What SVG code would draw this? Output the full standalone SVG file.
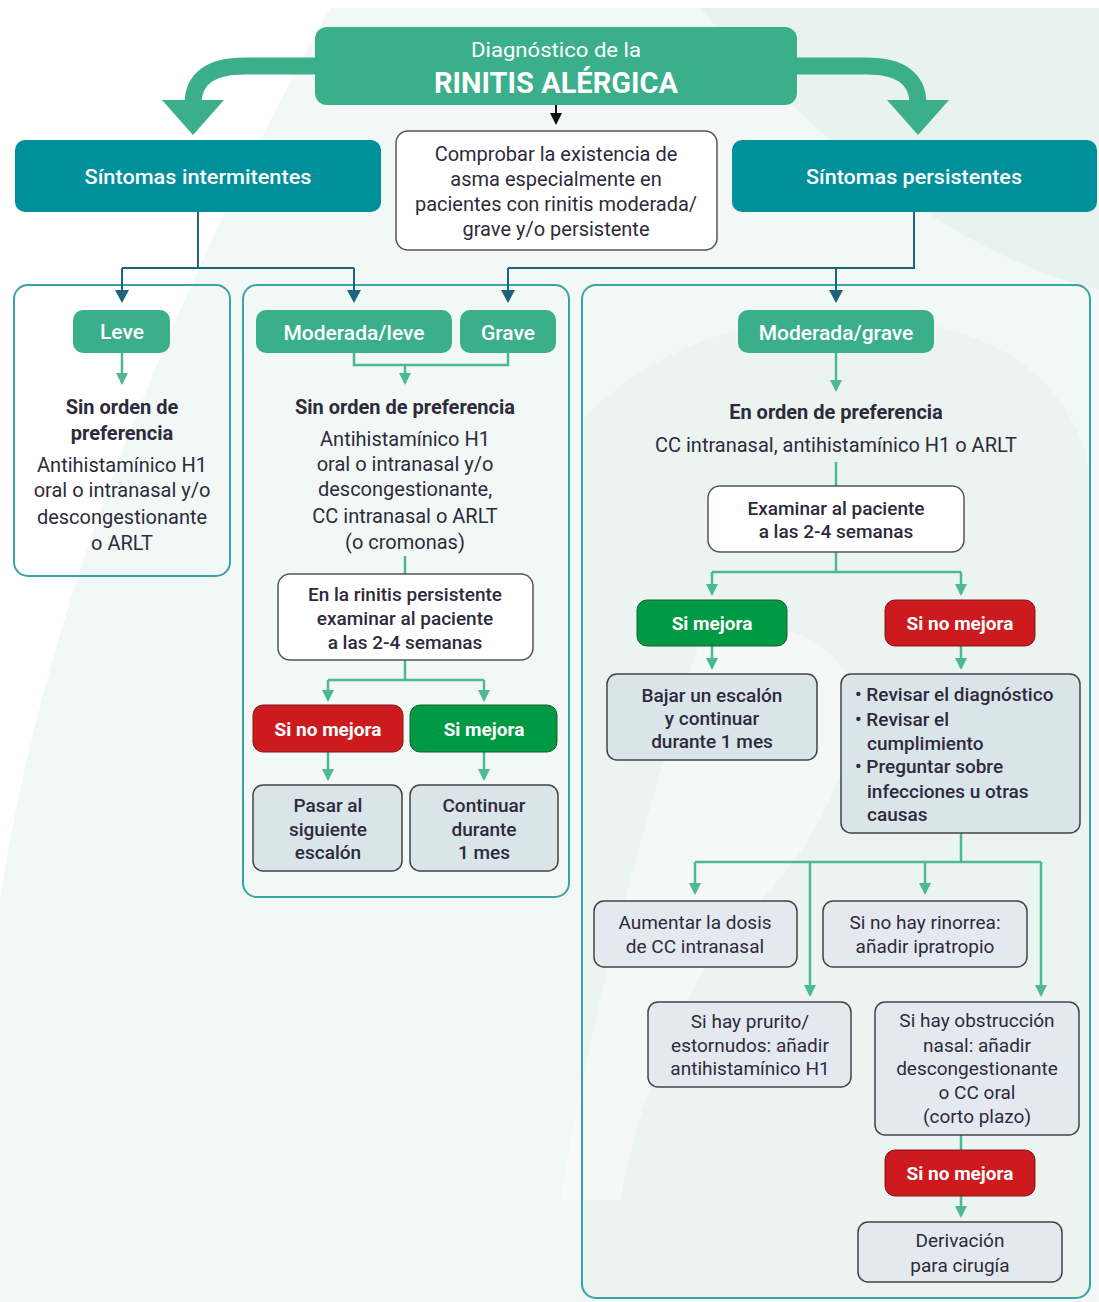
<svg xmlns="http://www.w3.org/2000/svg" width="1099" height="1302" viewBox="0 0 1099 1302">
<defs>
<style>
.t{font-family:Roboto,"Liberation Sans",sans-serif;fill:#2e2a3c;text-anchor:middle;font-size:19px}
.s20{font-size:20px}
.s21{font-size:21px}
.b{font-weight:bold}
.m{font-weight:500}
.w{fill:#ffffff}
.lft{text-anchor:start}
.panel{fill:none;stroke:#3aa3a8;stroke-width:2}
.gbox{fill:#3aaf8a}
.tbox{fill:#00909a}
.red{fill:#cc1a1f;stroke:#7a1a1a;stroke-width:1}
.grn{fill:#009a44;stroke:#1b5e32;stroke-width:1}
.wbox{fill:#ffffff;stroke:#555;stroke-width:1.5}
.bbox{fill:#dae5ea;stroke:#444;stroke-width:1.5}
.lbox{fill:#e4e9ef;stroke:#444;stroke-width:1.5}
.dk{fill:none;stroke:#1d6379;stroke-width:2}
.gl{fill:none;stroke:#4cb896;stroke-width:2.5}
</style>
<marker id="agd" markerWidth="16" markerHeight="12" refX="10" refY="6" orient="auto" markerUnits="userSpaceOnUse" viewBox="0 0 16 12">
<path d="M0,0 L12,6 L0,12 Z" fill="#4cb896"/>
</marker>
<marker id="add" markerWidth="16" markerHeight="14" refX="10" refY="7" orient="auto" markerUnits="userSpaceOnUse" viewBox="0 0 16 14">
<path d="M0,0 L13,7 L0,14 Z" fill="#1d6379"/>
</marker>
<marker id="ab" markerWidth="14" markerHeight="12" refX="10" refY="6" orient="auto" markerUnits="userSpaceOnUse" viewBox="0 0 14 12">
<path d="M0,0 L12,6 L0,12 Z" fill="#111"/>
</marker>
</defs>

<!-- background -->
<rect x="0" y="0" width="1099" height="1302" fill="#ffffff"/>
<g id="background" fill="#e8f3ef">
<path d="M330,8 L1099,8 L1099,1302 L0,1302 L0,900 Q60,500 330,8 Z" opacity="0.55"/>
<path d="M700,8 L1099,8 L1099,290 Q900,240 700,8 Z"/>
<path d="M582,420 Q700,300 900,320 Q1060,340 1090,470 L1090,1298 L582,1298 Z" opacity="0.8"/>
</g>
<g id="background2" fill="#ffffff" opacity="0.8">
<path d="M700,640 Q820,600 860,700 Q840,820 760,900 Q660,1000 620,1200 L560,1200 Q600,960 700,640 Z" opacity="0.6"/>
</g>

<!-- panels -->
<g id="panels">
<rect x="14" y="285" width="216" height="291" rx="14" fill="#f1f8f6" fill-opacity="0.7" class="panel"/>
<rect x="243" y="285" width="326" height="612" rx="14" fill="#f1f8f6" fill-opacity="0.6" class="panel"/>
<rect x="582" y="285" width="508" height="1013" rx="14" fill="none" class="panel"/>
</g>

<!-- connectors -->
<g id="connectors">
<path d="M318,66 L245,66 Q193,66 193,104" fill="none" stroke="#3aaf8a" stroke-width="17"/>
<polygon points="162,100 224,100 193,135" fill="#3aaf8a"/>
<path d="M794,66 L866,66 Q918,66 918,104" fill="none" stroke="#3aaf8a" stroke-width="17"/>
<polygon points="887,100 949,100 918,135" fill="#3aaf8a"/>
<path d="M556,105 L556,123" fill="none" stroke="#111" stroke-width="2" marker-end="url(#ab)"/>

<path class="dk" d="M198,212 L198,268 M122,268 L354,268"/>
<path class="dk" d="M122,268 L122,300" marker-end="url(#add)"/>
<path class="dk" d="M354,268 L354,300" marker-end="url(#add)"/>
<path class="dk" d="M914,212 L914,268 L508,268"/>
<path class="dk" d="M508,268 L508,300" marker-end="url(#add)"/>
<path class="dk" d="M836,268 L836,300" marker-end="url(#add)"/>

<path class="gl" d="M122,353 L122,383" marker-end="url(#agd)"/>
<path class="gl" d="M354,353 L354,365 L508,365 L508,353"/>
<path class="gl" d="M405,365 L405,383" marker-end="url(#agd)"/>
<path class="gl" d="M405,556 L405,574"/>
<path class="gl" d="M405,660 L405,680 M328,680 L484,680"/>
<path class="gl" d="M328,680 L328,700" marker-end="url(#agd)"/>
<path class="gl" d="M484,680 L484,700" marker-end="url(#agd)"/>
<path class="gl" d="M328,752 L328,779" marker-end="url(#agd)"/>
<path class="gl" d="M484,752 L484,779" marker-end="url(#agd)"/>

<path class="gl" d="M836,353 L836,390" marker-end="url(#agd)"/>
<path class="gl" d="M836,462 L836,486"/>
<path class="gl" d="M836,552 L836,572 M712,572 L961,572"/>
<path class="gl" d="M712,572 L712,594" marker-end="url(#agd)"/>
<path class="gl" d="M961,572 L961,594" marker-end="url(#agd)"/>
<path class="gl" d="M712,646 L712,668" marker-end="url(#agd)"/>
<path class="gl" d="M961,646 L961,668" marker-end="url(#agd)"/>
<path class="gl" d="M961,833 L961,862 M695,862 L1041,862"/>
<path class="gl" d="M695,862 L695,893" marker-end="url(#agd)"/>
<path class="gl" d="M925,862 L925,893" marker-end="url(#agd)"/>
<path class="gl" d="M810,862 L810,995" marker-end="url(#agd)"/>
<path class="gl" d="M1041,862 L1041,995" marker-end="url(#agd)"/>
<path class="gl" d="M961,1135 L961,1150"/>
<path class="gl" d="M961,1196 L961,1216" marker-end="url(#agd)"/>
</g>

<!-- nodes -->
<g id="title">
<rect x="315" y="27" width="482" height="78" rx="12" class="gbox"/>
<text x="556" y="57" class="t w" style="font-size:21px" textLength="170" lengthAdjust="spacingAndGlyphs">Diagnóstico de la</text>
<text x="556" y="93" class="t w b" style="font-size:29px" textLength="244" lengthAdjust="spacingAndGlyphs">RINITIS ALÉRGICA</text>
</g>
<g id="intermitentes">
<rect x="15" y="140" width="366" height="72" rx="10" class="tbox"/>
<text x="198" y="184" class="t w m s21" textLength="227" lengthAdjust="spacingAndGlyphs">Síntomas intermitentes</text>
</g>
<g id="persistentes">
<rect x="732" y="140" width="365" height="72" rx="10" class="tbox"/>
<text x="914" y="184" class="t w m s21" textLength="216" lengthAdjust="spacingAndGlyphs">Síntomas persistentes</text>
</g>
<g id="comprobar">
<rect x="396" y="131" width="321" height="119" rx="12" class="wbox"/>
<text x="556" y="161" class="t s20">Comprobar la existencia de</text>
<text x="556" y="186" class="t s20">asma especialmente en</text>
<text x="556" y="211" class="t s20">pacientes con rinitis moderada/</text>
<text x="556" y="236" class="t s20">grave y/o persistente</text>
</g>

<g id="leve">
<rect x="73" y="310" width="97" height="43" rx="10" class="gbox"/>
<text x="122" y="339" class="t w m s21">Leve</text>
</g>
<g id="leve-trat">
<text x="122" y="414" class="t b s20">Sin orden de</text>
<text x="122" y="440" class="t b s20">preferencia</text>
<text x="122" y="472" class="t s20">Antihistamínico H1</text>
<text x="122" y="497" class="t s20">oral o intranasal y/o</text>
<text x="122" y="524" class="t s20">descongestionante</text>
<text x="122" y="550" class="t s20">o ARLT</text>
</g>

<g id="moderada-leve">
<rect x="256" y="310" width="196" height="43" rx="10" class="gbox"/>
<text x="354" y="340" class="t w m s21">Moderada/leve</text>
</g>
<g id="grave">
<rect x="460" y="310" width="96" height="43" rx="10" class="gbox"/>
<text x="508" y="340" class="t w m s21">Grave</text>
</g>
<g id="ml-trat">
<text x="405" y="414" class="t b s20">Sin orden de preferencia</text>
<text x="405" y="446" class="t s20">Antihistamínico H1</text>
<text x="405" y="471" class="t s20">oral o intranasal y/o</text>
<text x="405" y="496" class="t s20">descongestionante,</text>
<text x="405" y="523" class="t s20">CC intranasal o ARLT</text>
<text x="405" y="549" class="t s20">(o cromonas)</text>
</g>
<g id="examinar1">
<rect x="278" y="574" width="255" height="86" rx="12" class="wbox"/>
<text x="405" y="601" class="t m">En la rinitis persistente</text>
<text x="405" y="625" class="t m">examinar al paciente</text>
<text x="405" y="649" class="t m">a las 2-4 semanas</text>
</g>
<g id="nomejora1">
<rect x="253" y="705" width="150" height="47" rx="10" class="red"/>
<text x="328" y="736" class="t w b">Si no mejora</text>
</g>
<g id="mejora1">
<rect x="410" y="705" width="147" height="47" rx="10" class="grn"/>
<text x="484" y="736" class="t w b">Si mejora</text>
</g>
<g id="pasar">
<rect x="253" y="785" width="149" height="86" rx="10" class="bbox"/>
<text x="328" y="812" class="t m">Pasar al</text>
<text x="328" y="836" class="t m">siguiente</text>
<text x="328" y="859" class="t m">escalón</text>
</g>
<g id="continuar">
<rect x="410" y="785" width="148" height="86" rx="10" class="bbox"/>
<text x="484" y="812" class="t m">Continuar</text>
<text x="484" y="836" class="t m">durante</text>
<text x="484" y="859" class="t m">1 mes</text>
</g>

<g id="moderada-grave">
<rect x="738" y="310" width="196" height="43" rx="10" class="gbox"/>
<text x="836" y="340" class="t w m s21">Moderada/grave</text>
</g>
<g id="mg-trat">
<text x="836" y="419" class="t b s20">En orden de preferencia</text>
<text x="836" y="452" class="t s20">CC intranasal, antihistamínico H1 o ARLT</text>
</g>
<g id="examinar2">
<rect x="708" y="486" width="256" height="66" rx="12" class="wbox"/>
<text x="836" y="515" class="t m">Examinar al paciente</text>
<text x="836" y="538" class="t m">a las 2-4 semanas</text>
</g>
<g id="mejora2">
<rect x="637" y="600" width="150" height="46" rx="10" class="grn"/>
<text x="712" y="630" class="t w b">Si mejora</text>
</g>
<g id="nomejora2">
<rect x="885" y="600" width="150" height="46" rx="10" class="red"/>
<text x="960" y="630" class="t w b">Si no mejora</text>
</g>
<g id="bajar">
<rect x="607" y="674" width="210" height="86" rx="10" class="bbox"/>
<text x="712" y="702" class="t m">Bajar un escalón</text>
<text x="712" y="725" class="t m">y continuar</text>
<text x="712" y="748" class="t m">durante 1 mes</text>
</g>
<g id="revisar">
<rect x="841" y="674" width="239" height="159" rx="10" class="bbox"/>
<text x="855" y="701" class="t m lft">• Revisar el diagnóstico</text>
<text x="855" y="726" class="t m lft">• Revisar el</text>
<text x="867" y="750" class="t m lft">cumplimiento</text>
<text x="855" y="773" class="t m lft">• Preguntar sobre</text>
<text x="867" y="798" class="t m lft">infecciones u otras</text>
<text x="867" y="821" class="t m lft">causas</text>
</g>
<g id="aumentar">
<rect x="594" y="901" width="203" height="66" rx="10" class="lbox"/>
<text x="695" y="929" class="t">Aumentar la dosis</text>
<text x="695" y="953" class="t">de CC intranasal</text>
</g>
<g id="rinorrea">
<rect x="823" y="901" width="204" height="66" rx="10" class="lbox"/>
<text x="925" y="929" class="t">Si no hay rinorrea:</text>
<text x="925" y="953" class="t">añadir ipratropio</text>
</g>
<g id="prurito">
<rect x="648" y="1002" width="203" height="85" rx="10" class="lbox"/>
<text x="750" y="1028" class="t">Si hay prurito/</text>
<text x="750" y="1052" class="t">estornudos: añadir</text>
<text x="750" y="1075" class="t">antihistamínico H1</text>
</g>
<g id="obstruccion">
<rect x="875" y="1002" width="204" height="133" rx="10" class="lbox"/>
<text x="977" y="1027" class="t">Si hay obstrucción</text>
<text x="977" y="1052" class="t">nasal: añadir</text>
<text x="977" y="1075" class="t">descongestionante</text>
<text x="977" y="1099" class="t">o CC oral</text>
<text x="977" y="1123" class="t">(corto plazo)</text>
</g>
<g id="nomejora3">
<rect x="885" y="1150" width="150" height="46" rx="10" class="red"/>
<text x="960" y="1180" class="t w b">Si no mejora</text>
</g>
<g id="derivacion">
<rect x="858" y="1222" width="204" height="60" rx="10" class="lbox"/>
<text x="960" y="1247" class="t">Derivación</text>
<text x="960" y="1272" class="t">para cirugía</text>
</g>
</svg>
